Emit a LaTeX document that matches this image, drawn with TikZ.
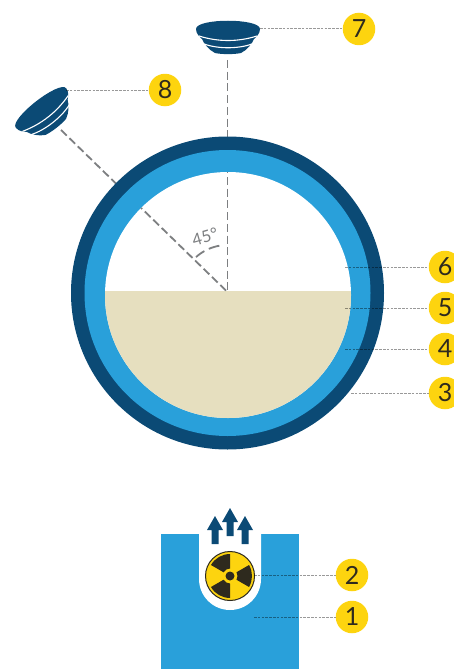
\documentclass[tikz,border=0pt]{standalone}
\usepackage{fontspec}
\setmainfont{Lato}
\definecolor{navy}{HTML}{0B4A75}
\definecolor{sky}{HTML}{29A0DA}
\definecolor{sand}{HTML}{E6DFBF}
\definecolor{gold}{HTML}{FDD40F}
\definecolor{ink}{HTML}{2E2A1E}
\definecolor{rule}{HTML}{7D7F81}
\tikzset{
  callout/.style={circle,fill=gold,text=ink,minimum size=32.5pt,inner sep=0pt,font=\fontsize{25}{25}\selectfont},
  leader/.style={draw=black,draw opacity=.4,line width=1pt,dash pattern=on 2.6pt off 1.2pt},
  axisline/.style={draw=rule,line width=1.8pt,dash pattern=on 8pt off 3.7pt},
  pics/bowl/.style={code={
    \fill[navy] (-32,0) .. controls (-32,-11) and (32,-11) .. (32,0)
      .. controls (32,5) and (28,8) .. (26,10)
      .. controls (24,15) and (19,21) .. (13,24)
      .. controls (6,25.5) and (-6,25.5) .. (-13,24)
      .. controls (-19,21) and (-24,15) .. (-26,10)
      .. controls (-28,8) and (-32,5) .. (-32,0) -- cycle;
    \draw[white,line width=1.1pt] (-29,7) .. controls (-10,13) and (10,13) .. (29,7);
    \draw[white,line width=1.1pt] (-24,15) .. controls (-10,20) and (10,20) .. (24,15);
  }},
  pics/risearrow/.style={code={
    \fill[navy] (0,0) -- (8,14) -- (3.5,14) -- (3.5,28) -- (-3.5,28) -- (-3.5,14) -- (-8,14) -- cycle;
  }}
}
\begin{document}
\begin{tikzpicture}[x=1pt,y=-1pt]
\useasboundingbox (0,0) rectangle (454,669);
\clip (0,0) rectangle (454,669);
\coordinate (hub) at (227.5,292);
\coordinate (axisA) at (227.5,60);
\coordinate (axisB) at (61,130);
% axes, outer part
\draw[axisline] (axisA) -- (hub);
\draw[axisline] (axisB) -- (hub);
% vessel
\fill[navy] (227.5,293) circle[radius=156.5];
\fill[sky] (227.5,293) circle[radius=143];
\fill[white] (228,295) circle[radius=123];
\begin{scope}
  \clip (0,291) rectangle (454,430);
  \fill[sand] (228,295) circle[radius=123];
\end{scope}
% axes, inner part
\begin{scope}
  \clip (228,295) circle[radius=123];
  \draw[axisline] (axisA) -- (hub);
  \draw[axisline] (axisB) -- (hub);
\end{scope}
% source block
\fill[sky] (161,534) rectangle (299,669);
\fill[white] (199,534) -- (199,579) arc[start angle=180,end angle=0,radius=31] -- (261,534) -- cycle;
% arrows
\pic at (230,508) {risearrow};
\pic at (215,516) {risearrow};
\pic at (245,516) {risearrow};
% source symbol
\fill[gold,draw=ink,line width=1pt] (230,576) circle[radius=24.5];
\foreach \a in {0,-120,120}{
  \fill[ink] (230,576) ++(\a-30:7.5) arc[start angle=\a-30,end angle=\a+30,radius=7.5]
    -- ++(\a+30:14.5) arc[start angle=\a+30,end angle=\a-30,radius=22] -- cycle;
}
\fill[ink] (230,576) circle[radius=4.5];
% sensors
\pic at (228,29) {bowl};
\pic[rotate=38] at (41,108) {bowl};
% angle mark
\draw[draw=rule,line width=1.8pt,dash pattern=on 11pt off 5pt] (hub) ++(-100:47) arc[start angle=-100,end angle=-132,radius=47];
\node[text=rule,rotate=16,font=\fontsize{16.5}{16.5}\selectfont,inner sep=0pt] (anglelabel) at (205,237) {45°};
% callouts
\node[callout] (n7) at (359,29) {7};
\node[callout] (n8) at (165,90) {8};
\node[callout] (n6) at (445,267) {6};
\node[callout] (n5) at (445,308) {5};
\node[callout] (n4) at (445,349) {4};
\node[callout] (n3) at (445,393) {3};
\node[callout] (n2) at (352,575) {2};
\node[callout] (n1) at (352,617) {1};
\coordinate (e7) at (260,29);
\coordinate (e8) at (66,90);
\coordinate (e6) at (345,267);
\coordinate (e5) at (345,308);
\coordinate (e4) at (345,349);
\coordinate (e3) at (351,393);
\coordinate (e2) at (254,575);
\coordinate (e1) at (254,617);
\foreach \k in {1,...,8}{\draw[leader] (e\k) -- (n\k);}
\end{tikzpicture}
\end{document}
